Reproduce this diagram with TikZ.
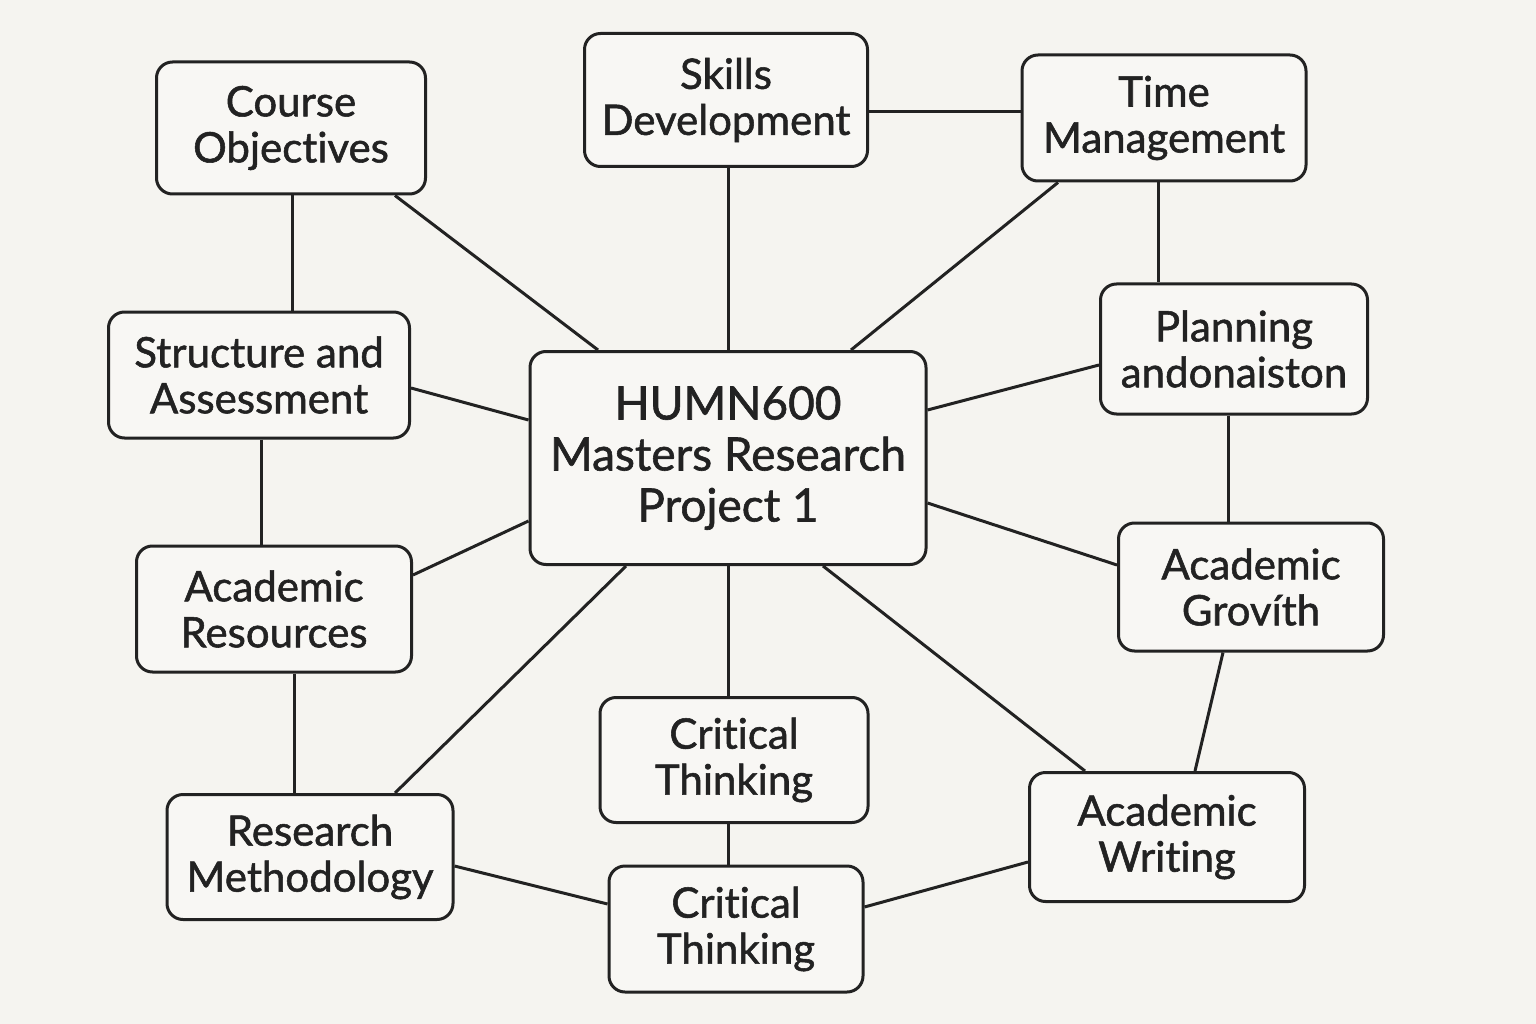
\documentclass[tikz,border=0pt]{standalone}
\usepackage{fontspec}
\setmainfont{Lato}[FakeBold=1.3, RawFeature=-liga]
\definecolor{bgc}{HTML}{F5F4F0}
\definecolor{boxc}{HTML}{F8F7F4}
\definecolor{inkc}{HTML}{222222}
\begin{document}
\begin{tikzpicture}[x=1pt,y=-1pt,
  box/.style={draw=inkc, line width=3pt, rounded corners=16pt, fill=boxc, text=inkc,
    inner sep=0pt, align=center, font=\fontsize{42}{46}\selectfont},
  link/.style={draw=inkc, line width=3pt}]
\fill[bgc] (0,0) rectangle (1536,1024);
\useasboundingbox (0,0) rectangle (1536,1024);
% nodes
\node[box, minimum width=269pt, minimum height=132pt] (co) at (291,128) {Course\\Objectives};
\node[box, minimum width=283pt, minimum height=133pt] (sk) at (726,100) {Skills\\Development};
\node[box, minimum width=284pt, minimum height=126pt] (tm) at (1164,118) {Time\\Management};
\node[box, minimum width=301pt, minimum height=126pt] (sa) at (259,375) {Structure and\\Assessment};
\node[box, minimum width=396pt, minimum height=213pt, font=\fontsize{46}{51}\selectfont] (hub) at (728,458) {HUMN600\\Masters Research\\Project 1};
\node[box, minimum width=267pt, minimum height=130pt] (pl) at (1234,349) {Planning\\andonaiston};
\node[box, minimum width=275pt, minimum height=126pt] (ar) at (274,609) {Academic\\Resources};
\node[box, minimum width=265pt, minimum height=128pt] (gr) at (1251,587) {Academic\\Grovíth};
\node[box, minimum width=268pt, minimum height=125pt] (ct1) at (734,760) {Critical\\Thinking};
\node[box, minimum width=286pt, minimum height=125pt] (rm) at (310,857) {Research\\Methodology};
\node[box, minimum width=275pt, minimum height=129pt] (aw) at (1167,837) {Academic\\Writing};
\node[box, minimum width=254pt, minimum height=126pt] (ct2) at (736,929) {Critical\\Thinking};
% links
\draw[link] ([xshift=1pt]co.south) -- ([xshift=1pt]co.south |- sa.north);
\draw[link] ([xshift=104pt]co.south) -- ([xshift=-130pt]hub.north);
\draw[link] ([xshift=2pt]sk.south) -- ([xshift=2pt]sk.south |- hub.north);
\draw[link] ([yshift=-12pt]sk.east) -- ([yshift=-12pt]sk.east -| tm.west);
\draw[link] ([xshift=-106pt]tm.south) -- ([xshift=123pt]hub.north);
\draw[link] ([xshift=-6pt]tm.south) -- ([xshift=-6pt]tm.south |- pl.north);
\draw[link] ([yshift=-13pt]sa.east) -- ([yshift=38pt]hub.west);
\draw[link] ([xshift=2pt]sa.south) -- ([xshift=2pt]sa.south |- ar.north);
\draw[link] ([yshift=-16pt]pl.west) -- ([yshift=48pt]hub.east);
\draw[link] ([xshift=-6pt]pl.south) -- ([xshift=-6pt]pl.south |- gr.north);
\draw[link] ([yshift=34pt]ar.east) -- ([yshift=-63pt]hub.west);
\draw[link] ([yshift=-45pt]hub.east) -- ([yshift=22pt]gr.west);
\draw[link] ([xshift=20pt]ar.south) -- ([xshift=20pt]ar.south |- rm.north);
\draw[link] ([xshift=-102pt]hub.south) -- ([xshift=85pt]rm.north);
\draw[link] (hub.south) -- (hub.south |- ct1.north);
\draw[link] ([xshift=95pt]hub.south) -- ([xshift=-82pt]aw.north);
\draw[link] ([xshift=-28pt]gr.south) -- ([xshift=28pt]aw.north);
\draw[link] ([xshift=-6pt]ct1.south) -- ([xshift=-6pt]ct1.south |- ct2.north);
\draw[link] ([yshift=-9pt]rm.east) -- ([yshift=25pt]ct2.west);
\draw[link] ([yshift=22pt]ct2.east) -- ([yshift=-25pt]aw.west);
\end{tikzpicture}
\end{document}
